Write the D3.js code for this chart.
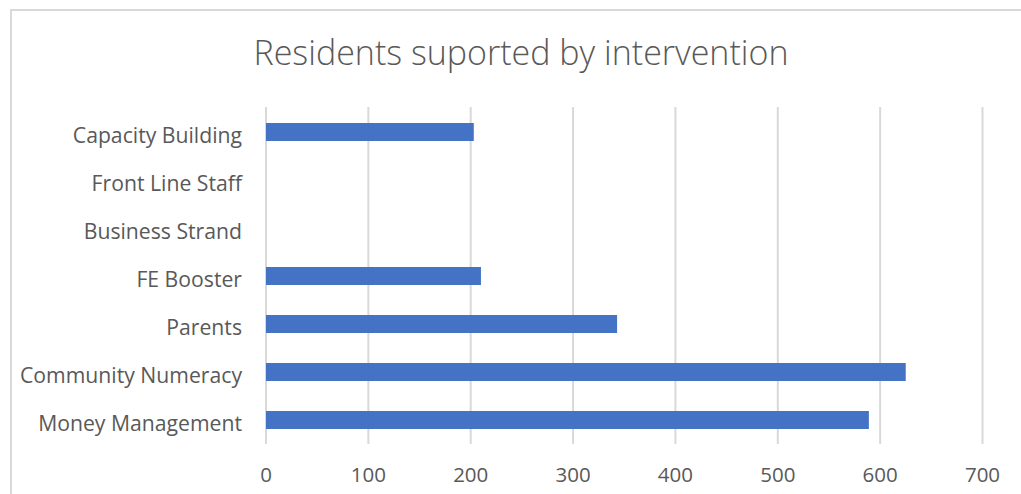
<!DOCTYPE html>
<html>
<head>
<meta charset="utf-8">
<script src="https://cdn.jsdelivr.net/npm/d3@7"></script>
<style>
  html, body { margin: 0; padding: 0; background: #fff; }
  svg { display: block; }
  text { font-family: "Open Sans", "Noto Sans", sans-serif; fill: #595959; }
</style>
</head>
<body>
<script>
const title = "Residents suported by intervention";
const categories = ["Money Management", "Community Numeracy", "Parents", "FE Booster", "Business Strand", "Front Line Staff", "Capacity Building"];
const values = [589, 625, 343, 210, 0, 0, 203];
const xTicks = [0, 100, 200, 300, 400, 500, 600, 700];

const W = 1021, H = 494;
const svg = d3.select("body").append("svg").attr("width", W).attr("height", H);

// chart frame
svg.append("rect")
  .attr("x", 11).attr("y", 10)
  .attr("width", W + 10).attr("height", H + 10)
  .attr("fill", "none").attr("stroke", "#d9d9d9").attr("stroke-width", 2);

const x = d3.scaleLinear().domain([0, 700]).range([266, 982.5]);
const y = d3.scaleBand().domain(categories).range([444, 108])
  .paddingInner(0.625).paddingOuter(0.3125);

// gridlines
svg.append("g").selectAll("line").data(xTicks).join("line")
  .attr("x1", d => x(d)).attr("x2", d => x(d))
  .attr("y1", 107).attr("y2", 444)
  .attr("stroke", "#d9d9d9").attr("stroke-width", 2);

// bars
svg.append("g").selectAll("rect").data(categories).join("rect")
  .attr("x", x(0))
  .attr("y", d => y(d))
  .attr("width", (d, i) => x(values[i]) - x(0))
  .attr("height", y.bandwidth())
  .attr("fill", "#4472c4");

// y labels
svg.append("g").selectAll("text").data(categories).join("text")
  .attr("x", 242)
  .attr("y", d => y(d) + y.bandwidth() / 2 + 11)
  .attr("text-anchor", "end")
  .style("font-size", "21.2px")
  .text(d => d);

// x labels
svg.append("g").selectAll("text").data(xTicks).join("text")
  .attr("x", d => x(d))
  .attr("y", 482)
  .attr("text-anchor", "middle")
  .style("font-size", "20.5px")
  .text(d => d);

// title
svg.append("text")
  .attr("x", 521).attr("y", 65)
  .attr("text-anchor", "middle")
  .style("font-size", "34px")
  .style("font-weight", 300)
  .text(title);
</script>
</body>
</html>
